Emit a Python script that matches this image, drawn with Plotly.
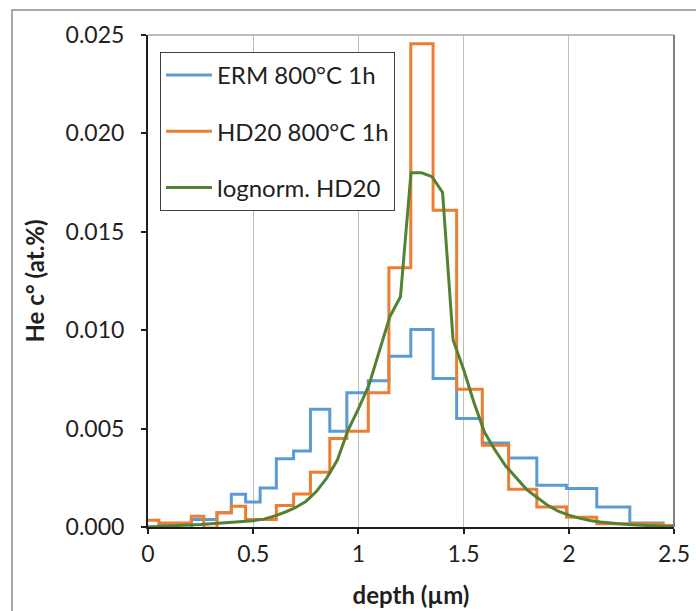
import plotly.graph_objects as go

# Bin edges of the depth profile (µm)
edges = [0, 0.052, 0.147, 0.206, 0.265, 0.328, 0.396, 0.464, 0.533, 0.61, 0.692,
         0.772, 0.864, 0.945, 1.047, 1.145, 1.249, 1.355, 1.467, 1.589, 1.714,
         1.848, 1.989, 2.133, 2.29, 2.448, 2.5]

# He concentration per bin (at.%)
erm_800 = [0.0, 0.0001, -0.00008, 0.00038, 0.00038, 0.00072, 0.00166, 0.00127,
           0.00198, 0.00347, 0.00386, 0.00598, 0.00487, 0.00682, 0.00743, 0.00868,
           0.01004, 0.00755, 0.00551, 0.00427, 0.00351, 0.00212, 0.00195, 0.00102,
           0.00020, 0.0]
hd20_800 = [0.00034, 0.00020, 0.00020, 0.00054, -0.00005, 0.00072, 0.00105, 0.00038,
            0.00038, 0.00109, 0.00168, 0.00278, 0.0045, 0.00487, 0.00682, 0.01317,
            0.02455, 0.0161, 0.0070, 0.00416, 0.00192, 0.00102, 0.0005, 0.00017,
            0.00017, 0.00008]

# Lognormal fit of HD20
logn_x = [0.0, 0.05, 0.1, 0.15, 0.2, 0.25, 0.3, 0.35, 0.4, 0.45, 0.5, 0.55, 0.6,
          0.65, 0.7, 0.75, 0.8, 0.85, 0.9, 0.95, 1.0, 1.05, 1.1, 1.15, 1.2, 1.25,
          1.3, 1.35, 1.4, 1.45, 1.5, 1.55, 1.6, 1.65, 1.7, 1.75, 1.8, 1.85, 1.9,
          1.95, 2.0, 2.05, 2.1, 2.15, 2.2, 2.25, 2.3, 2.35, 2.4, 2.45, 2.5]
logn_y = [0.0, 0.00002, 0.00004, 0.00007, 0.0001, 0.00013, 0.00017, 0.0002,
          0.00024, 0.00028, 0.00032, 0.0004, 0.00055, 0.00075, 0.00098, 0.0013,
          0.0018, 0.0025, 0.0034, 0.0049, 0.006, 0.0072, 0.0089, 0.0107, 0.0117,
          0.0180, 0.0180, 0.0178, 0.0170, 0.0095, 0.0080, 0.0063, 0.0048, 0.0039,
          0.0031, 0.0025, 0.0019, 0.0015, 0.0011, 0.0008, 0.0006, 0.00045,
          0.00033, 0.00025, 0.00019, 0.00015, 0.00011, 0.00008, 0.00006,
          0.00004, 0.00003]

x_ticks = [0, 0.5, 1, 1.5, 2, 2.5]
x_tick_labels = ["0", "0.5", "1", "1.5", "2", "2.5"]
y_ticks = [0, 0.005, 0.01, 0.015, 0.02, 0.025]

FONT = "Lato"
AX = "#1F1F1F"

def step_xy(vals):
    return edges[:-1] + [edges[-1]], list(vals) + [vals[-1]]

fig = go.Figure()
sx, sy = step_xy(erm_800)
fig.add_trace(go.Scatter(x=sx, y=sy, mode="lines", line_shape="hv",
                         line=dict(color="#5B9BD5", width=3),
                         name="ERM 800°C 1h", legendgroup="a"))
sx, sy = step_xy(hd20_800)
fig.add_trace(go.Scatter(x=sx, y=sy, mode="lines", line_shape="hv",
                         line=dict(color="#ED7D31", width=3),
                         name="HD20 800°C 1h", legendgroup="b"))
fig.add_trace(go.Scatter(x=logn_x, y=logn_y, mode="lines",
                         line=dict(color="#548235", width=3),
                         name="lognorm. HD20", legendgroup="c"))

L, R, T, B = 148, 22, 35, 84
W, H = 696, 611
pw, ph = W - L - R, H - T - B

fig.update_layout(
    width=W, height=H,
    margin=dict(l=L, r=R, t=T, b=B),
    paper_bgcolor="white", plot_bgcolor="white",
    font=dict(family=FONT, size=23, color=AX),
    showlegend=True,
    legend=dict(x=(160 - L) / pw, y=1 - (52 - T) / ph, xanchor="left", yanchor="top",
                bordercolor="#404040", borderwidth=1, bgcolor="white",
                font=dict(family=FONT, size=24, color=AX),
                itemwidth=46,
                traceorder="grouped", tracegroupgap=22),
    xaxis=dict(range=[0, 2.5], tickvals=x_ticks, ticktext=x_tick_labels,
               showgrid=True, gridcolor="#BFBFBF", gridwidth=1,
               showline=True, linecolor=AX, linewidth=2,
               ticks="outside", ticklen=5, tickwidth=2, tickcolor=AX,
               zeroline=False, tickfont=dict(size=23), ticklabelstandoff=0,
               automargin=False,
               title=dict(text="<b>depth (µm)</b>", font=dict(size=24), standoff=22)),
    yaxis=dict(range=[0, 0.025], tickvals=y_ticks, tickformat=".3f",
               showgrid=False, showline=True, linecolor=AX, linewidth=2,
               ticks="outside", ticklen=5, tickwidth=2, tickcolor=AX,
               zeroline=False, tickfont=dict(size=23), ticklabelstandoff=12,
               automargin=False,
               title=dict(text="<b>He c° (at.%)</b>", font=dict(size=24), standoff=14)),
    shapes=[
        # outer chart frame
        dict(type="rect", xref="paper", yref="paper",
             x0=(12 - L) / pw, x1=(W + 5 - L) / pw,
             y0=-(H + 5 - (H - B)) / ph, y1=1 + (T - 10) / ph,
             line=dict(color="#8C8C8C", width=1.5), layer="below"),
        # plot area top border
        dict(type="line", xref="paper", yref="paper", x0=0, x1=1, y0=1, y1=1,
             line=dict(color="#A6A6A6", width=1.5)),
        # plot area right border
        dict(type="line", xref="paper", yref="paper", x0=1, x1=1, y0=0, y1=1,
             line=dict(color="#808080", width=2)),
    ],
)

fig.write_html("out.html")
